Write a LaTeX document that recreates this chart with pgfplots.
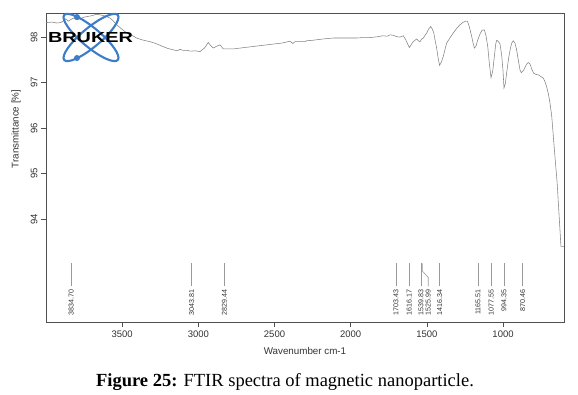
\documentclass[border=0pt]{standalone}
\usepackage{fontspec}
\setmainfont{Liberation Sans}
\newfontfamily\capfont{Liberation Serif}
\usepackage{pgfplots}
\pgfplotsset{compat=1.18}
\definecolor{curve}{HTML}{828282}
\definecolor{frame}{HTML}{505050}
\definecolor{peak}{HTML}{9A9A9A}
\definecolor{logoblue}{HTML}{3D7CC9}
\definecolor{txt}{HTML}{333333}
\begin{document}
\begin{tikzpicture}
\useasboundingbox (0pt,0pt) rectangle (578pt,395pt);
\begin{axis}[
  at={(46pt,73pt)}, anchor=south west, scale only axis,
  width=518pt, height=309pt,
  x dir=reverse, xmin=600, xmax=4000, ymin=91.74, ymax=98.53,
  xtick={1000,1500,2000,2500,3000,3500}, ytick={94,95,96,97,98},
  scaled x ticks=false, scaled y ticks=false,
  tick pos=left, tick align=outside, major tick length=5pt,
  tick style={frame, line width=0.6pt},
  axis line style={frame, line width=0.8pt},
  /pgf/number format/.cd, 1000 sep={}, assume math mode=true, /pgfplots/.cd,
  xticklabel style={font=\fontsize{9.5}{10}\selectfont, text=txt},
  yticklabel style={font=\fontsize{9.5}{10}\selectfont, text=txt, rotate=90, anchor=south},
  xlabel={Wavenumber cm-1},
  xlabel style={font=\fontsize{9.8}{10}\selectfont, text=txt, at={(axis description cs:0.5,-0.1036)}, anchor=base},
  ylabel={Transmittance [\%]},
  ylabel style={font=\fontsize{9.8}{10}\selectfont, text=txt, at={(axis description cs:-0.0579,0.6246)}, anchor=center},
]
\addplot[curve, line width=0.55pt] coordinates {
(4000,98.33) (3995,98.32) (3960,98.33) (3930,98.31) (3902,98.32) (3885,98.36)
(3870,98.40) (3855,98.35) (3840,98.38) (3820,98.42) (3798,98.38) (3770,98.41)
(3750,98.44) (3733,98.45) (3700,98.47) (3670,98.50) (3646,98.49) (3620,98.47)
(3600,98.45) (3580,98.42) (3560,98.36) (3536,98.27) (3500,98.17) (3470,98.09)
(3440,98.05) (3406,97.98) (3370,97.94) (3318,97.90) (3280,97.86) (3230,97.79)
(3200,97.75) (3164,97.72) (3140,97.70) (3120,97.73) (3100,97.71) (3076,97.71)
(3050,97.69) (3020,97.70) (2989,97.68) (2960,97.76) (2935,97.88) (2915,97.80)
(2902,97.76) (2880,97.80) (2858,97.83) (2836,97.74) (2800,97.74) (2771,97.74)
(2700,97.77) (2650,97.79) (2600,97.81) (2551,97.83) (2500,97.85) (2450,97.87)
(2398,97.91) (2380,97.86) (2365,97.90) (2333,97.90) (2300,97.90) (2289,97.92)
(2250,97.93) (2180,97.96) (2114,97.98) (2050,97.98) (1961,97.98) (1920,97.99)
(1873,97.99) (1820,98.01) (1790,98.03) (1760,98.02) (1742,98.05) (1720,98.04)
(1698,98.01) (1676,98.00) (1655,98.03) (1640,97.95) (1625,97.84) (1615,97.77)
(1600,97.85) (1589,97.90) (1578,97.93) (1567,97.96) (1556,97.92) (1545,97.90)
(1534,97.96) (1523,97.98) (1512,98.04) (1501,98.09) (1490,98.17) (1475,98.23)
(1465,98.18) (1455,98.10) (1447,97.95) (1436,97.76) (1425,97.52) (1417,97.38)
(1405,97.45) (1392,97.58) (1381,97.73) (1370,97.87) (1349,97.98) (1327,98.09)
(1305,98.19) (1283,98.27) (1265,98.32) (1245,98.35) (1235,98.35) (1225,98.27)
(1215,98.14) (1205,98.00) (1196,97.86) (1188,97.76) (1178,97.80) (1165,97.95)
(1151,98.07) (1138,98.15) (1123,98.16) (1112,98.03) (1100,97.78) (1090,97.42)
(1079,97.11) (1068,97.25) (1058,97.55) (1048,97.85) (1042,97.93) (1032,97.91)
(1020,97.85) (1009,97.60) (1000,97.25) (994,96.88) (985,96.98) (975,97.25)
(963,97.55) (952,97.75) (943,97.87) (933,97.92) (922,97.87) (911,97.72)
(900,97.50) (889,97.28) (880,97.22) (867,97.26) (856,97.33) (845,97.41)
(834,97.44) (823,97.41) (812,97.30) (800,97.21) (785,97.18) (769,97.17)
(750,97.13) (736,97.10) (725,97.02) (714,96.91) (703,96.76) (692,96.55)
(681,96.28) (670,95.82) (660,95.40) (652,95.08) (645,94.80) (637,94.35)
(628,93.85) (620,93.40) (600,93.40)
};
\pgfplotsinvokeforeach{3834.70,3043.81,2829.44,1703.43,1616.17,1539.83,1416.34,1165.51,1077.55,994.35,870.46}{
  \addplot[peak, line width=0.6pt] coordinates {(#1,93.03) (#1,92.52)};
  \node[rotate=90, anchor=east, inner sep=0.5pt, text=txt, font=\fontsize{7.1}{8}\selectfont] at (axis cs:#1,92.47) {#1};
}
\addplot[peak, line width=0.6pt] coordinates {(1530,93.03) (1530,92.86) (1491,92.72) (1491,92.52)};
\node[rotate=90, anchor=east, inner sep=0.5pt, text=txt, font=\fontsize{7.1}{8}\selectfont] at (axis cs:1491,92.47) {1525.99};
\end{axis}
% Bruker logo
\begin{scope}[shift={(91pt,37.5pt)}, yshift=320pt, x=1pt, y=1pt]
  \draw[logoblue, line width=2.1pt] (0,0) ellipse[x radius=35pt, y radius=9.5pt, rotate=-40];
  \draw[logoblue, line width=2.1pt] (0,0) ellipse[x radius=35pt, y radius=9.5pt, rotate=40];
  \fill[logoblue] (-14,20.5) circle (3pt);
  \fill[logoblue] (-14,-20.5) circle (3pt);
  \node[xscale=1.36, inner sep=0pt, font=\fontsize{14.6}{15}\selectfont\bfseries] at (-0.5,0) {BRUKER};
\end{scope}
\node[anchor=base, inner sep=0pt, font=\capfont\fontsize{18.5}{20}\selectfont] at (285pt,8.3pt) {\textbf{Figure 25:} FTIR spectra of magnetic nanoparticle.};
\end{tikzpicture}
\end{document}
